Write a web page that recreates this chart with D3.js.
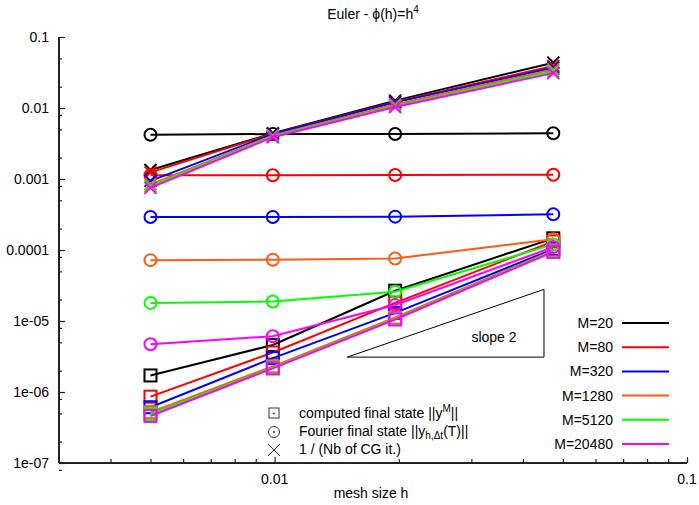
<!DOCTYPE html>
<html>
<head>
<meta charset="utf-8">
<script src="https://cdn.jsdelivr.net/npm/d3@7"></script>
<style>
  body { margin: 0; background: #fff; }
  text { font-family: "Liberation Sans", Arial, sans-serif; fill: #000; }
</style>
</head>
<body>
<div id="chart"></div>
<script>
// mesh sizes h
const hValues = [0.005, 0.0099, 0.0196, 0.0474];

const mLabels = ["M=20", "M=80", "M=320", "M=1280", "M=5120", "M=20480"];
const mColors = ["#000000", "#ff0000", "#0000ff", "#ff5a14", "#00ff00", "#ff00ff"];

// computed final state ||y^M||  (squares)
const computedState = [
  [1.71e-6, 4.6e-6, 2.67e-5, 1.46e-4],
  [8.6e-7, 3.6e-6, 1.8e-5, 1.32e-4],
  [6.1e-7, 3.0e-6, 1.3e-5, 1.03e-4],
  [5.2e-7, 2.3e-6, 1.12e-5, 9.9e-5],
  [4.9e-7, 2.2e-6, 1.08e-5, 9.6e-5],
  [4.6e-7, 2.15e-6, 1.05e-5, 9.4e-5]
];

// Fourier final state ||y_{h,dt}(T)||  (circles)
const fourierState = [
  [4.2e-3, 4.3e-3, 4.3e-3, 4.4e-3],
  [1.13e-3, 1.13e-3, 1.14e-3, 1.15e-3],
  [2.92e-4, 2.92e-4, 2.95e-4, 3.18e-4],
  [7.2e-5, 7.3e-5, 7.6e-5, 1.42e-4],
  [1.8e-5, 1.88e-5, 2.58e-5, 1.2e-4],
  [4.7e-6, 6.1e-6, 1.68e-5, 1.1e-4]
];

// 1 / (Nb of CG it.)  (crosses)
const cgInverse = [
  [1.34e-3, 4.4e-3, 1.27e-2, 4.35e-2],
  [1.24e-3, 4.35e-3, 1.22e-2, 3.9e-2],
  [9.4e-4, 4.3e-3, 1.2e-2, 3.7e-2],
  [8.4e-4, 4.1e-3, 1.12e-2, 3.5e-2],
  [7.9e-4, 4.0e-3, 1.07e-2, 3.3e-2],
  [7.5e-4, 3.88e-3, 1.03e-2, 3.1e-2]
];

const xTicks = [0.01, 0.1];
const yTicks = [1e-1, 1e-2, 1e-3, 1e-4, 1e-5, 1e-6, 1e-7];
const yTickLabels = ["0.1", "0.01", "0.001", "0.0001", "1e-05", "1e-06", "1e-07"];

const slopeTriangle = [[0.015, 3.1e-6], [0.045, 2.79e-5], [0.045, 3.1e-6]];

const width = 699, height = 505;
const svg = d3.select("#chart").append("svg")
  .attr("width", width)
  .attr("height", height);

svg.append("rect").attr("width", width).attr("height", height).attr("fill", "#fff");

const x = d3.scaleLog().domain([0.003, 0.1]).range([59, 687]);
const y = d3.scaleLog().domain([1e-7, 0.1]).range([463, 37]);

// axes (ticks drawn inward)
const xMinor = [];
for (let d = 0.004; d < 0.01; d += 0.001) xMinor.push(+d.toFixed(3));
for (let d = 0.02; d < 0.1; d += 0.01) xMinor.push(+d.toFixed(2));

const xAxis = svg.append("g").attr("transform", "translate(0,463)");
xAxis.call(d3.axisTop(x).tickValues(xMinor).tickSize(4).tickFormat(""));
xAxis.append("g").call(d3.axisTop(x).tickValues(xTicks).tickSize(6).tickFormat(""));
xAxis.selectAll(".domain").remove();
xAxis.selectAll("line").attr("stroke", "#222").attr("stroke-width", 1.2);
xAxis.append("line").attr("x1", 59).attr("x2", 687).attr("stroke", "#222").attr("stroke-width", 2);
xAxis.selectAll(".xlab").data(xTicks).enter().append("text")
  .attr("x", d => x(d)).attr("y", 21)
  .attr("text-anchor", "middle").style("font-size", "14px")
  .text(d => d);

const yMinor = [];
yTicks.slice(0, -1).forEach(t => { yMinor.push(t * 0.5, t * 0.2, t * 0.08); });
const yAxis = svg.append("g").attr("transform", "translate(59,0)");
yAxis.call(d3.axisRight(y).tickValues(yMinor).tickSize(3).tickFormat(""));
yAxis.append("g").call(d3.axisRight(y).tickValues(yTicks).tickSize(6).tickFormat(""));
yAxis.selectAll(".domain").remove();
yAxis.selectAll("line").attr("stroke", "#222").attr("stroke-width", 1.2);
yAxis.append("line").attr("y1", 37).attr("y2", 463).attr("stroke", "#222").attr("stroke-width", 2);
yAxis.selectAll(".ylab").data(yTicks).enter().append("text")
  .attr("x", -10).attr("y", d => y(d) + 5)
  .attr("text-anchor", "end").style("font-size", "14px")
  .text((d, i) => yTickLabels[i]);

// title
const title = svg.append("text").attr("x", 373).attr("y", 19)
  .attr("text-anchor", "middle").style("font-size", "14px");
title.append("tspan").text("Euler - \u03d5(h)=h");
title.append("tspan").attr("dy", -6).style("font-size", "10px").text("4");

svg.append("text").attr("x", 371).attr("y", 498)
  .attr("text-anchor", "middle").style("font-size", "14px")
  .text("mesh size h");

// slope triangle
svg.append("path")
  .attr("d", d3.line().x(d => x(d[0])).y(d => y(d[1]))(slopeTriangle) + "Z")
  .attr("fill", "none").attr("stroke", "#000").attr("stroke-width", 1);
svg.append("text").attr("x", 494).attr("y", 342)
  .attr("text-anchor", "middle").style("font-size", "14px").text("slope 2");

// series
const line = d3.line().x((d, i) => x(hValues[i])).y(d => y(d));
const plot = svg.append("g");

function drawMarkers(g, vals, kind, color) {
  vals.forEach((v, i) => {
    const cx = x(hValues[i]), cy = y(v);
    if (kind === "circle") {
      g.append("circle").attr("cx", cx).attr("cy", cy).attr("r", 6)
        .attr("fill", "none").attr("stroke", color).attr("stroke-width", 2);
    } else if (kind === "square") {
      g.append("rect").attr("x", cx - 6).attr("y", cy - 6).attr("width", 12).attr("height", 12)
        .attr("fill", "none").attr("stroke", color).attr("stroke-width", 2);
    } else {
      g.append("path").attr("d", `M${cx - 6},${cy - 6}L${cx + 6},${cy + 6}M${cx - 6},${cy + 6}L${cx + 6},${cy - 6}`)
        .attr("stroke", color).attr("stroke-width", 2);
    }
  });
}

mLabels.forEach((m, k) => {
  const g = plot.append("g");
  const c = mColors[k];
  [[computedState[k], "square"], [fourierState[k], "circle"], [cgInverse[k], "cross"]].forEach(([vals, kind]) => {
    g.append("path").attr("d", line(vals)).attr("fill", "none")
      .attr("stroke", c).attr("stroke-width", 2);
    drawMarkers(g, vals, kind, c);
  });
});

// legend for M
const legend = svg.append("g");
mLabels.forEach((m, k) => {
  const ly = 323 + 24.2 * k;
  legend.append("text").attr("x", 613).attr("y", ly + 5)
    .attr("text-anchor", "end").style("font-size", "14px").text(m);
  legend.append("line").attr("x1", 622).attr("x2", 669).attr("y1", ly).attr("y2", ly)
    .attr("stroke", mColors[k]).attr("stroke-width", 2);
});

// legend for symbols
const sym = svg.append("g").attr("stroke", "#333").attr("fill", "none").attr("stroke-width", 1);
sym.append("rect").attr("x", 269).attr("y", 408).attr("width", 10).attr("height", 10);
sym.append("circle").attr("cx", 274).attr("cy", 432).attr("r", 5.5);
sym.append("path").attr("d", "M268,444L280,456M268,456L280,444");
sym.append("circle").attr("cx", 274).attr("cy", 413.5).attr("r", 0.6).attr("fill", "#333");
sym.append("circle").attr("cx", 274).attr("cy", 432).attr("r", 0.6).attr("fill", "#333");

const t1 = svg.append("text").attr("x", 299).attr("y", 418).style("font-size", "14px");
t1.append("tspan").text("computed final state ||y");
t1.append("tspan").attr("dy", -6).style("font-size", "10px").text("M");
t1.append("tspan").attr("dy", 6).text("||");

const t2 = svg.append("text").attr("x", 299).attr("y", 436).style("font-size", "14px");
t2.append("tspan").text("Fourier final state ||y");
t2.append("tspan").attr("dy", 3).style("font-size", "10px").text("h,\u0394t");
t2.append("tspan").attr("dy", -3).text("(T)||");

svg.append("text").attr("x", 299).attr("y", 454).style("font-size", "14px")
  .text("1 / (Nb of CG it.)");
</script>
</body>
</html>
